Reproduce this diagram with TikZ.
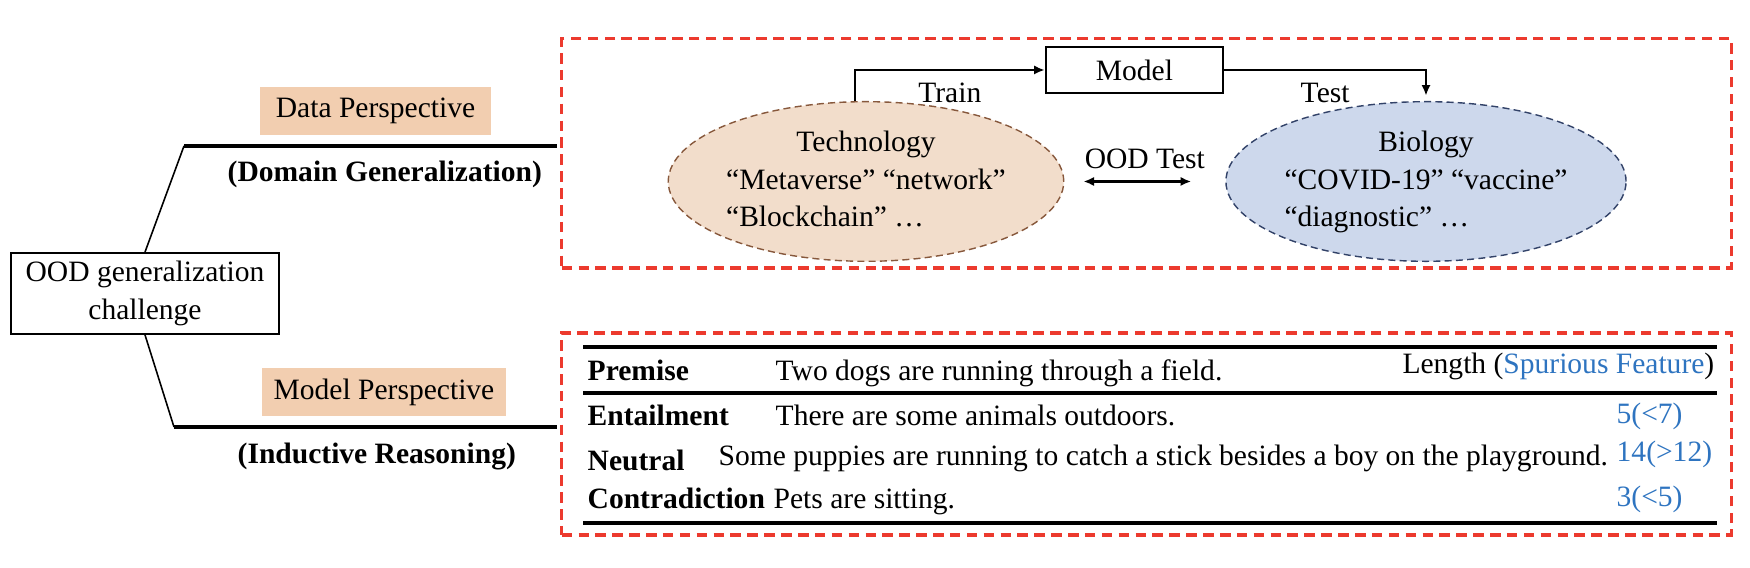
\documentclass[tikz,border=0pt]{standalone}
\usepackage{fontspec}
\setmainfont{Liberation Serif}
\usetikzlibrary{positioning,shapes.geometric,arrows.meta}

\definecolor{framered}{RGB}{236,58,46}
\definecolor{peach}{RGB}{242,206,176}
\definecolor{techfill}{RGB}{242,221,203}
\definecolor{techline}{RGB}{135,88,60}
\definecolor{biofill}{RGB}{205,216,236}
\definecolor{bioline}{RGB}{50,66,104}
\definecolor{featblue}{RGB}{46,116,192}
\newcommand{\diagfont}{\fontsize{8.4}{10.7}\selectfont}

\tikzset{node distance=2cm, auto,
  every node/.style={font=\diagfont},
  persp/.style={fill=peach, inner sep=0pt, minimum height=0.48cm},
  redframe/.style={draw=framered, line width=0.9pt, dash pattern=on 3pt off 1.8pt},
  fieldblob/.style={ellipse, line width=0.4pt, dash pattern=on 2pt off 1.2pt,
    minimum width=3.26cm, minimum height=1.48cm, inner sep=0pt},
  rowlabel/.style={font=\diagfont\bfseries, anchor=base west, inner sep=0pt},
  rowtext/.style={anchor=base west, inner sep=0pt},
  feat/.style={anchor=base west, inner sep=0pt, text=featblue},
  tabrule/.style={line width=0.9pt},
  flow/.style={-{Latex[length=3pt,width=2.6pt]}, line width=0.6pt},
}

\begin{document}
\begin{tikzpicture}[x=0.01cm, y=-0.01cm]
\useasboundingbox (0,0) rectangle (1750,568);

% left part: challenge and the two perspectives
\node[draw, line width=0.5pt, align=center, minimum width=2.68cm,
  minimum height=0.81cm, inner sep=0pt] (ood) at (145,293.5)
  {OOD generalization\\challenge};
\node[persp, minimum width=2.31cm] (dataP) at (375.5,111) {Data Perspective};
\node[persp, minimum width=2.44cm] (modelP) at (384,392) {Model Perspective};
\node[font=\diagfont\bfseries, anchor=west, inner sep=0pt] (dataG) at (227,174) {(Domain Generalization)};
\node[font=\diagfont\bfseries, anchor=west, inner sep=0pt] (modelG) at (237,457) {(Inductive Reasoning)};

\coordinate (dkink) at (184,146);
\coordinate (dend) at (557,146);
\coordinate (mkink) at (174,427);
\coordinate (mend) at (557,427);
\draw[line width=0.45pt] (ood.north) -- (dkink);
\draw[tabrule] (dkink) -- (dend);
\draw[line width=0.45pt] (ood.south) -- (mkink);
\draw[tabrule] (mkink) -- (mend);

% data perspective
\node[redframe, minimum width=11.69cm, minimum height=2.29cm] (dataframe) at (1146.5,153.5) {};
\node[draw, line width=0.7pt, minimum width=1.77cm, minimum height=0.46cm,
  inner sep=0pt] (model) at (1134.5,70) {Model};
\node[fieldblob, fill=techfill, draw=techline] (tech) at (866,181.5)
  {\begin{tabular}{@{}l@{}}\multicolumn{1}{@{}c@{}}{Technology}\\
   “Metaverse” “network”\\ “Blockchain” …\end{tabular}};
\node[fieldblob, fill=biofill, draw=bioline] (bio) at (1426,181.5)
  {\begin{tabular}{@{}l@{}}\multicolumn{1}{@{}c@{}}{Biology}\\
   “COVID-19” “vaccine”\\ “diagnostic” …\end{tabular}};

\draw[flow] ([xshift=-0.11cm]tech.north) |- node[pos=0.75, below] {Train} (model.west);
\draw[flow, shorten >=1.5pt] (model.east) -| node[pos=0.25, below] {Test} (bio.north);
\draw[flow, {Latex[length=3pt,width=2.6pt]}-{Latex[length=3pt,width=2.6pt]},
  shorten <=0.19cm, shorten >=0.34cm] (tech.east) -- node[above] {OOD Test} (bio.west);

% model perspective
\node[redframe, minimum width=11.69cm, minimum height=2.02cm] (modelframe) at (1146.5,434) {};
\foreach \y in {347,393,523}
  \draw[tabrule] (583,\y) -- (1717,\y);

\node[rowlabel] (premise) at (587,381) {Premise};
\node[rowtext] (premiseT) at (775,381) {Two dogs are running through a field.};
\node[anchor=base east, inner sep=0pt] (length) at (1715,374)
  {Length (\textcolor{featblue}{Spurious Feature})};

\node[rowlabel] (entail) at (587,426) {Entailment};
\node[rowtext] (entailT) at (775,426) {There are some animals outdoors.};
\node[feat] (entailL) at (1616,424) {5(<7)};

\node[rowlabel] (neutral) at (587,471) {Neutral};
\node[rowtext] (neutralT) at (718,466) {Some puppies are running to catch a stick besides a boy on the playground.};
\node[feat] (neutralL) at (1616,462) {14(>12)};

\node[rowlabel] (contra) at (587,509) {Contradiction};
\node[rowtext] (contraT) at (773,509) {Pets are sitting.};
\node[feat] (contraL) at (1616,507) {3(<5)};
\end{tikzpicture}
\end{document}
